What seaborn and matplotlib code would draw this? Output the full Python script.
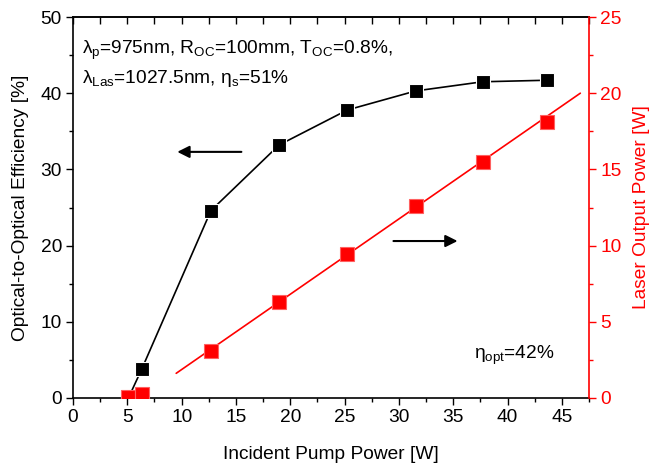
import matplotlib
matplotlib.use("Agg")
import matplotlib.pyplot as plt
import seaborn as sns
import numpy as np
from matplotlib.ticker import MultipleLocator

sns.set_theme(style="ticks")
plt.rcParams['font.family'] = ['Liberation Sans', 'DejaVu Sans']
plt.rcParams['mathtext.fontset'] = 'custom'
plt.rcParams['mathtext.rm'] = 'Liberation Sans'
plt.rcParams['mathtext.it'] = 'Liberation Sans'
plt.rcParams['text.color'] = 'black'
plt.rcParams['axes.labelcolor'] = 'black'
plt.rcParams['xtick.color'] = 'black'
plt.rcParams['ytick.color'] = 'black'

# Data
pump = [5.1, 6.33, 12.7, 18.97, 25.26, 31.56, 37.7, 43.6]
efficiency = [0.0, 3.8, 24.6, 33.2, 37.8, 40.3, 41.5, 41.7]
output_power = [0.08, 0.24, 3.1, 6.3, 9.45, 12.6, 15.5, 18.1]
fit_x = [9.5, 46.7]
fit_y = [1.62, 20.0]

RED = '#ff0000'
FS = 13.8

fig = plt.figure(figsize=(6.51, 4.67), dpi=100)
ax = fig.add_axes([73/651, 69/467, (589-73)/651, (398-17)/467])
ax2 = ax.twinx()

sns.lineplot(x=pump, y=efficiency, ax=ax, color='black', lw=1.2,
             marker='s', markersize=10, markeredgecolor='white',
             markeredgewidth=0.8, zorder=3)

sns.lineplot(x=fit_x, y=fit_y, ax=ax2, color=RED, lw=1.2, zorder=3)
sns.lineplot(x=pump, y=output_power, ax=ax2, color=RED, lw=0,
             marker='s', markersize=10, markeredgecolor='#ff6060',
             markeredgewidth=0.8, zorder=4)

ax.set_xlim(0, 47.5)
ax.set_ylim(0, 50)
ax2.set_ylim(0, 25)

ax.xaxis.set_major_locator(MultipleLocator(5))
ax.xaxis.set_minor_locator(MultipleLocator(2.5))
ax.yaxis.set_major_locator(MultipleLocator(10))
ax.yaxis.set_minor_locator(MultipleLocator(5))
ax2.yaxis.set_major_locator(MultipleLocator(5))
ax2.yaxis.set_minor_locator(MultipleLocator(2.5))

ax.tick_params(axis='both', which='major', direction='out', length=5, width=1,
               labelsize=FS, colors='black', pad=3)
ax.tick_params(axis='both', which='minor', direction='out', length=3, width=1)
ax2.tick_params(axis='y', which='major', direction='out', length=5, width=1,
                labelsize=FS, colors=RED, pad=3)
ax2.tick_params(axis='y', which='minor', direction='out', length=3, width=1, colors=RED)

top = ax.secondary_xaxis('top')
top.xaxis.set_major_locator(MultipleLocator(5))
top.xaxis.set_minor_locator(MultipleLocator(2.5))
top.tick_params(axis='x', which='both', direction='in', length=5, width=1,
                labeltop=False, colors='black')
top.tick_params(axis='x', which='minor', length=5)

for sp in ['left', 'bottom', 'top']:
    ax.spines[sp].set_linewidth(1.2)
    ax.spines[sp].set_color('black')
ax.spines['right'].set_visible(False)
ax2.spines['left'].set_visible(False)
ax2.spines['top'].set_visible(False)
ax2.spines['bottom'].set_visible(False)
ax2.spines['right'].set_color(RED)
ax2.spines['right'].set_linewidth(1.2)

ax.set_xlabel('Incident Pump Power [W]', fontsize=FS, labelpad=14, color='black')
ax.set_ylabel('Optical-to-Optical Efficiency [%]', fontsize=FS, labelpad=8, color='black')
ax2.set_ylabel('Laser Output Power [W]', fontsize=FS, color=RED, labelpad=8)

# Annotations
ax.text(0.8, 45.6, r'$\lambda_\mathregular{p}$=975nm, R$_\mathregular{OC}$=100mm, T$_\mathregular{OC}$=0.8%,',
        fontsize=FS, ha='left', va='center', color='black')
ax.text(0.8, 41.9, r'$\lambda_\mathregular{Las}$=1027.5nm, $\eta_\mathregular{s}$=51%',
        fontsize=FS, ha='left', va='center', color='black')
ax.text(36.9, 5.6, r'$\eta_\mathregular{opt}$=42%', fontsize=FS, ha='left', va='center',
        color='black')

ax.annotate('', xy=(9.6, 32.3), xytext=(15.5, 32.3),
            arrowprops=dict(arrowstyle='-|>', color='black', lw=1.5,
                            mutation_scale=18, shrinkA=0, shrinkB=0))
ax.annotate('', xy=(35.4, 20.6), xytext=(29.5, 20.6),
            arrowprops=dict(arrowstyle='-|>', color='black', lw=1.5,
                            mutation_scale=18, shrinkA=0, shrinkB=0))

fig.savefig('out.png', dpi=100)
